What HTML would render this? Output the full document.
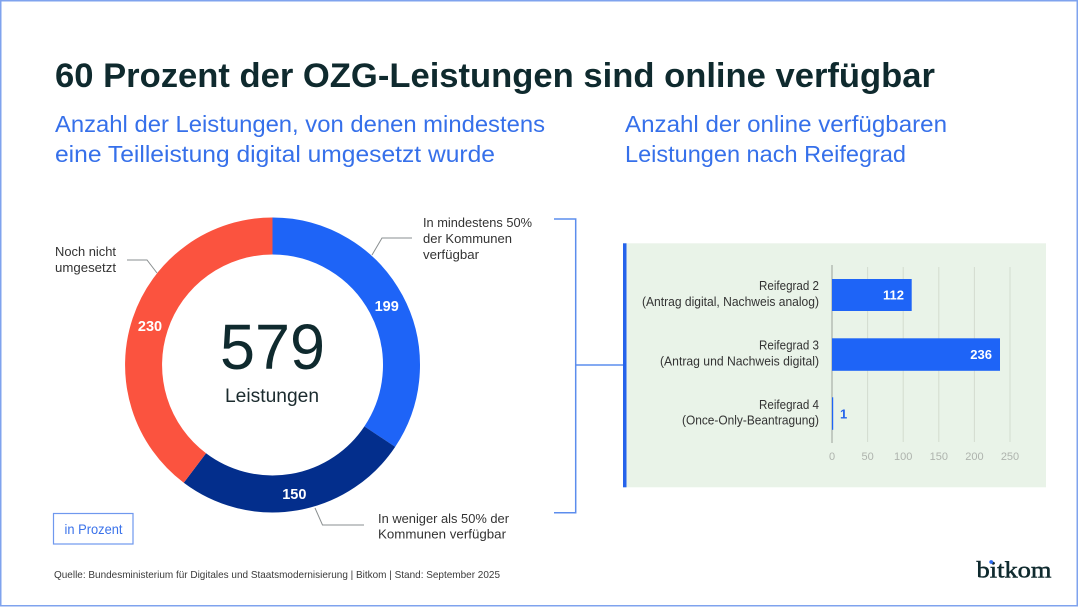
<!DOCTYPE html>
<html>
<head>
<meta charset="utf-8">
<style>
  html, body { margin:0; padding:0; background:#ffffff; }
  body { width:1080px; height:607px; overflow:hidden; }
  svg { display:block; }
  text { font-family: "Liberation Sans", "DejaVu Sans", sans-serif; }
</style>
</head>
<body>
<svg width="1080" height="607" viewBox="0 0 1080 607" xmlns="http://www.w3.org/2000/svg">
  <rect x="0" y="0" width="1080" height="607" fill="#ffffff"/>
  <rect x="0.75" y="0.75" width="1076.5" height="605" fill="none" stroke="#7fa3ee" stroke-width="1.5"/>

  <!-- Title -->
  <text x="55" y="87" font-size="34" font-weight="bold" fill="#0f2a2e" textLength="880" lengthAdjust="spacingAndGlyphs">60 Prozent der OZG-Leistungen sind online verfügbar</text>

  <!-- Subtitles -->
  <text x="55" y="132" font-size="23" fill="#3670ea" textLength="490" lengthAdjust="spacingAndGlyphs">Anzahl der Leistungen, von denen mindestens</text>
  <text x="55" y="162" font-size="23" fill="#3670ea" textLength="440" lengthAdjust="spacingAndGlyphs">eine Teilleistung digital umgesetzt wurde</text>
  <text x="625" y="132" font-size="23" fill="#3670ea" textLength="322" lengthAdjust="spacingAndGlyphs">Anzahl der online verfügbaren</text>
  <text x="625" y="162" font-size="23" fill="#3670ea" textLength="281" lengthAdjust="spacingAndGlyphs">Leistungen nach Reifegrad</text>

  <!-- Donut -->
  <g fill="none" stroke-width="37">
    <path d="M 272.5 236 A 129 129 0 0 1 379.8 436.6" stroke="#1e64f7"/>
    <path d="M 379.8 436.6 A 129 129 0 0 1 194.9 468.0" stroke="#032e8c"/>
    <path d="M 194.9 468.0 A 129 129 0 0 1 272.5 236" stroke="#fb533f"/>
  </g>
  <text x="386.7" y="311" font-size="14.5" font-weight="bold" fill="#ffffff" text-anchor="middle">199</text>
  <text x="150" y="331" font-size="14.5" font-weight="bold" fill="#ffffff" text-anchor="middle">230</text>
  <text x="294.3" y="499" font-size="14.5" font-weight="bold" fill="#ffffff" text-anchor="middle">150</text>

  <text x="272.5" y="369" font-size="64" fill="#0f2a2e" text-anchor="middle" textLength="105" lengthAdjust="spacingAndGlyphs">579</text>
  <text x="272" y="402" font-size="19" fill="#1b2b2e" text-anchor="middle" textLength="94" lengthAdjust="spacingAndGlyphs">Leistungen</text>

  <!-- Donut labels -->
  <g font-size="13" fill="#333333">
    <text x="55" y="256" textLength="61" lengthAdjust="spacingAndGlyphs">Noch nicht</text>
    <text x="55" y="272" textLength="61" lengthAdjust="spacingAndGlyphs">umgesetzt</text>
    <text x="423" y="227" textLength="109" lengthAdjust="spacingAndGlyphs">In mindestens 50%</text>
    <text x="423" y="243" textLength="89" lengthAdjust="spacingAndGlyphs">der Kommunen</text>
    <text x="423" y="259" textLength="56" lengthAdjust="spacingAndGlyphs">verfügbar</text>
    <text x="378" y="523" textLength="131" lengthAdjust="spacingAndGlyphs">In weniger als 50% der</text>
    <text x="378" y="538.5" textLength="128" lengthAdjust="spacingAndGlyphs">Kommunen verfügbar</text>
  </g>
  <!-- Leader lines -->
  <g fill="none" stroke="#8a8f90" stroke-width="1">
    <polyline points="127,260 147,260 157,273"/>
    <polyline points="412,238 382,238 372,255"/>
    <polyline points="315,508 322.5,525 364,525"/>
  </g>

  <!-- in Prozent box -->
  <rect x="53.5" y="513.5" width="79.5" height="30.5" fill="none" stroke="#6f98ee" stroke-width="1.2"/>
  <text x="64.5" y="534" font-size="14" fill="#3a72ea" textLength="58" lengthAdjust="spacingAndGlyphs">in Prozent</text>

  <!-- Source -->
  <text x="54" y="578" font-size="10.5" fill="#3a3a3a" textLength="446" lengthAdjust="spacingAndGlyphs">Quelle: Bundesministerium für Digitales und Staatsmodernisierung | Bitkom | Stand: September 2025</text>

  <!-- bitkom logo -->
  <text x="976.5" y="577.5" style="font-family:'Liberation Serif','DejaVu Serif',serif;" font-size="23" fill="#0f2a2e" stroke="#0f2a2e" stroke-width="0.5" textLength="75" lengthAdjust="spacingAndGlyphs">bitkom</text>
  <circle cx="991.2" cy="562" r="1.9" fill="#2f6cf0"/>

  <!-- Bracket -->
  <g fill="none" stroke="#5c8ded" stroke-width="1.5">
    <polyline points="554,219 575.7,219 575.7,512.7 554,512.7"/>
    <line x1="575.7" y1="365" x2="624" y2="365"/>
  </g>

  <!-- Bar chart panel -->
  <rect x="623" y="243.3" width="423" height="244" fill="#e9f3e8"/>
  <rect x="623" y="243.3" width="3.5" height="244" fill="#2563eb"/>

  <!-- gridlines -->
  <g stroke="#d3dccf" stroke-width="1">
    <line x1="867.6" y1="267" x2="867.6" y2="442"/>
    <line x1="903.2" y1="267" x2="903.2" y2="442"/>
    <line x1="938.8" y1="267" x2="938.8" y2="442"/>
    <line x1="974.4" y1="267" x2="974.4" y2="442"/>
    <line x1="1010" y1="267" x2="1010" y2="442"/>
  </g>
  <line x1="832" y1="265" x2="832" y2="443" stroke="#9aa09a" stroke-width="1"/>

  <!-- bars -->
  <rect x="832" y="279" width="79.7" height="32" fill="#1e64f7"/>
  <rect x="832" y="338.3" width="168" height="32.5" fill="#1e64f7"/>
  <rect x="832" y="397.3" width="1.2" height="32.5" fill="#1e64f7"/>

  <g font-size="13" font-weight="bold" text-anchor="end" fill="#ffffff">
    <text x="904" y="299.5">112</text>
    <text x="992" y="359">236</text>
  </g>
  <text x="840" y="418.5" font-size="13" font-weight="bold" fill="#2563eb">1</text>

  <!-- category labels -->
  <g font-size="12.5" fill="#333333" text-anchor="end">
    <text x="819" y="290" textLength="60" lengthAdjust="spacingAndGlyphs">Reifegrad 2</text>
    <text x="819" y="306" textLength="177" lengthAdjust="spacingAndGlyphs">(Antrag digital, Nachweis analog)</text>
    <text x="819" y="349.3" textLength="60" lengthAdjust="spacingAndGlyphs">Reifegrad 3</text>
    <text x="819" y="365.3" textLength="159" lengthAdjust="spacingAndGlyphs">(Antrag und Nachweis digital)</text>
    <text x="819" y="409" textLength="60" lengthAdjust="spacingAndGlyphs">Reifegrad 4</text>
    <text x="819" y="424.7" textLength="137" lengthAdjust="spacingAndGlyphs">(Once-Only-Beantragung)</text>
  </g>

  <!-- tick labels -->
  <g font-size="11" fill="#aeb3ad" text-anchor="middle">
    <text x="832" y="460">0</text>
    <text x="867.6" y="460">50</text>
    <text x="903.2" y="460">100</text>
    <text x="938.8" y="460">150</text>
    <text x="974.4" y="460">200</text>
    <text x="1010" y="460">250</text>
  </g>
</svg>
</body>
</html>
